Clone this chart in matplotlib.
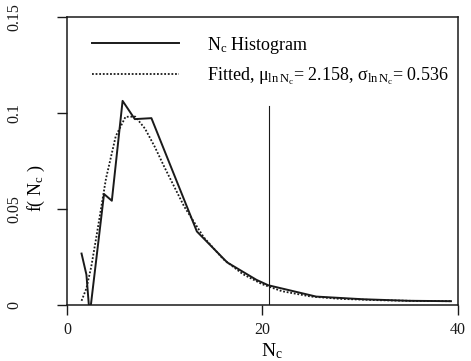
import matplotlib
matplotlib.use("Agg")
import matplotlib.pyplot as plt

plt.rcParams['font.family'] = ['Liberation Serif', 'DejaVu Serif']
plt.rcParams['mathtext.fontset'] = 'custom'
plt.rcParams['mathtext.rm'] = 'Liberation Serif'
plt.rcParams['mathtext.it'] = 'Liberation Serif:italic'

# Histogram (solid)
hist_x = [1.5, 2.0, 2.25, 2.45, 3.8, 4.6, 5.7, 6.95, 8.65, 13.3, 16.4, 19.4, 20.6, 25.5, 30.3, 35.0, 39.3]
hist_y = [0.027, 0.016, 0.0, 0.0, 0.058, 0.0545, 0.1065, 0.097, 0.0975, 0.0385, 0.0224, 0.0133, 0.0105, 0.0046, 0.0032, 0.0024, 0.0022]

# Fitted lognormal (dotted)
fit_x = [1.5, 2, 2.5, 3, 4, 5, 6, 7, 8, 9, 10, 12, 14, 16, 18, 20, 22, 25, 28, 32, 36, 39.3]
fit_y = [0.0024, 0.0089, 0.0203, 0.0352, 0.066, 0.0881, 0.0982, 0.0983, 0.092, 0.0825, 0.0718,
         0.0515, 0.0355, 0.0241, 0.0163, 0.011, 0.0074, 0.0046, 0.0034, 0.0027, 0.0023, 0.0022]

vline_x = 20.7
vline_top = 0.104

x_ticks = [0, 20, 40]
y_ticks = [0, 0.05, 0.1, 0.15]
y_ticklabels = ['0', '0.05', '0.1', '0.15']

fig = plt.figure(figsize=(4.71, 3.61), dpi=100)
ax = fig.add_axes([0.142, 0.154, 0.830, 0.798])

ink = '#1a1a1a'
ax.plot(hist_x, hist_y, color=ink, lw=1.4, label=r'N$_{\mathrm{c}}$ Histogram')
ax.plot(fit_x, fit_y, color=ink, lw=1.3, ls=(0, (1, 1)),
        label=r'Fitted, μ$_{\mathrm{ln\,N_c}}$= 2.158, σ$_{\mathrm{ln\,N_c}}$= 0.536')
ax.plot([vline_x, vline_x], [0, vline_top], color=ink, lw=0.8)

ax.set_xlim(0, 40)
ax.set_ylim(0, 0.15)
ax.set_xticks(x_ticks)
ax.set_yticks(y_ticks)
ax.set_yticklabels(y_ticklabels)
ax.tick_params(axis='both', direction='out', length=7, width=1.0, colors=ink, labelsize=11.5)
ax.tick_params(axis='x', pad=5)
ax.tick_params(axis='y', pad=25, labelrotation=90)
for lab in ax.get_yticklabels():
    lab.set_va('center')
for sp in ax.spines.values():
    sp.set_linewidth(1.1)
    sp.set_color(ink)

ax.set_xlabel(r'N$_{\mathrm{c}}$', fontsize=14)
ax.xaxis.set_label_coords(0.524, -0.125)
ax.set_ylabel(r'f( N$_{\mathrm{c}}$ )', fontsize=13)
ax.yaxis.set_label_coords(-0.052, 0.405)

ax.legend(loc='upper left', bbox_to_anchor=(0.064, 0.94), frameon=False, fontsize=13,
          handlelength=4.8, handletextpad=1.6, labelspacing=0.55, borderpad=0, borderaxespad=0)

fig.savefig('out.png', dpi=100)
